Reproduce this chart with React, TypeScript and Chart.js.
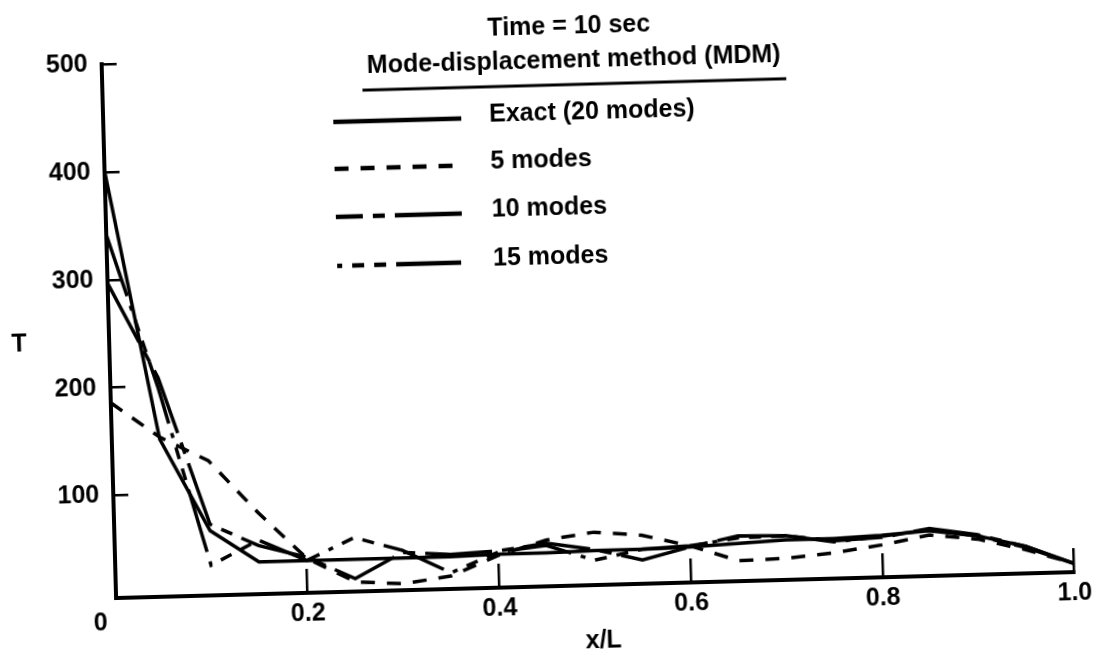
import React, { useEffect, useRef } from 'react';
import { Chart, registerables } from 'chart.js';

Chart.register(...registerables);

// ---- data ----
const xPositions = [0, 0.05, 0.1, 0.15, 0.2, 0.25, 0.3, 0.35, 0.4, 0.45, 0.5, 0.55, 0.6, 0.65, 0.7, 0.75, 0.8, 0.85, 0.9, 0.95, 1.0];
const exactValues = [401, 151, 65, 35, 35, 35, 35, 35, 36, 36, 37, 37, 38, 40, 42, 42, 44, 47, 41, 30, 13];
const modes5Values = [186, 153, 130, 81, 37, 14, 11, 17, 35, 48, 54, 50, 39, 24, 25, 29, 35, 43, 38, 27, 13];
const modes10Values = [297, 208, 71, 50, 38, 17, 40, 37, 39, 45, 38, 27, 38, 47, 46, 40, 42, 49, 42, 30, 13];
const modes15Values = [342, 198, 33, 55, 35, 55, 42, 20, 38, 43, 28, 37, 39, 45, 46, 39, 43, 48, 41, 29, 13];

const seriesLabels = ['Exact (20 modes)', '5 modes', '10 modes', '15 modes'];
const titleLines = ['Time = 10 sec', 'Mode-displacement method (MDM)'];
const yAxisTitle = 'T';
const xAxisTitle = 'x/L';
const xOriginLabel = '0';
const xTickValues = [0, 0.2, 0.4, 0.6, 0.8, 1.0];
const xTickLabels = ['', '0.2', '0.4', '0.6', '0.8', '1.0'];
const yTickValues = [100, 200, 300, 400, 500];
const yTickLabels = ['100', '200', '300', '400', '500'];
const yMin = 5;
const yMax = 500;

const FONT = '"Liberation Sans", Arial, Helvetica, sans-serif';
const FONT_SIZE = 25;
const FONT_WEIGHT = 'bold';

const dashPatterns: number[][] = [[], [14, 12], [67, 10, 12, 10], [65, 10, 5, 10, 12, 10, 12, 10]];
const legendDashOffsets = [0, 0, 40, 75];

const toPoints = (vals: number[]) => vals.map((v, i) => ({ x: xPositions[i], y: v }));

const annotationPlugin = {
  id: 'annotations',
  afterDraw(chart: any) {
    const ctx = chart.ctx as CanvasRenderingContext2D;
    const area = chart.chartArea;
    const xs = chart.scales.x;
    ctx.save();
    ctx.fillStyle = '#000';
    ctx.strokeStyle = '#000';
    ctx.font = `${FONT_WEIGHT} ${FONT_SIZE}px ${FONT}`;
    ctx.textAlign = 'center';
    ctx.textBaseline = 'middle';
    ctx.fillText(titleLines[0], 577, 27);
    ctx.fillText(titleLines[1], 581, 61);
    ctx.lineWidth = 3;
    ctx.beginPath();
    ctx.moveTo(369, 85);
    ctx.lineTo(793, 85);
    ctx.stroke();

    const rows = [116, 163, 211, 260];
    chart.data.datasets.forEach((ds: any, i: number) => {
      ctx.setLineDash(ds.borderDash || []);
      ctx.lineDashOffset = legendDashOffsets[i];
      ctx.lineWidth = 4.5;
      ctx.beginPath();
      ctx.moveTo(339, rows[i]);
      ctx.lineTo(467, rows[i]);
      ctx.stroke();
      ctx.setLineDash([]);
      ctx.textAlign = 'left';
      ctx.fillText(ds.label, 495, rows[i] - 3);
    });

    ctx.textAlign = 'center';
    ctx.fillText(yAxisTitle, 19, 330);
    ctx.fillText(xAxisTitle, (area.left + area.right) / 2 + 7, 642);
    ctx.fillText(xOriginLabel, xs.getPixelForValue(0) - 16, 611);
    ctx.restore();
  },
};

export default function App() {
  const canvasRef = useRef<HTMLCanvasElement | null>(null);

  useEffect(() => {
    if (!canvasRef.current) return;
    const series = [exactValues, modes5Values, modes10Values, modes15Values];
    const chart = new Chart(canvasRef.current, {
      type: 'line',
      data: {
        datasets: series.map((vals, i) => ({
          label: seriesLabels[i],
          data: toPoints(vals),
          borderColor: '#000',
          backgroundColor: '#000',
          borderWidth: 3.5,
          borderDash: dashPatterns[i],
          pointRadius: 0,
          tension: 0,
          fill: false,
        })),
      },
      options: {
        responsive: false,
        animation: false,
        layout: { padding: { top: 52, right: 26, left: 0, bottom: 0 } },
        plugins: {
          legend: { display: false },
          title: { display: false },
          tooltip: { enabled: false },
        },
        scales: {
          x: {
            type: 'linear',
            min: 0,
            max: 1,
            afterFit: (s: any) => {
              s.height = 74;
            },
            afterBuildTicks: (s: any) => {
              s.ticks = xTickValues.map((v) => ({ value: v }));
            },
            ticks: {
              padding: 30,
              color: '#000',
              autoSkip: false,
              maxRotation: 0,
              font: { family: FONT, size: FONT_SIZE, weight: FONT_WEIGHT },
              callback: (_v: any, i: number) => xTickLabels[i],
            },
            grid: { drawOnChartArea: false, drawTicks: true, tickLength: -24, lineWidth: 2.5, color: '#000' },
            border: { display: true, width: 4, color: '#000' },
          },
          y: {
            min: yMin,
            max: yMax,
            afterFit: (s: any) => {
              s.width = 109;
            },
            afterBuildTicks: (s: any) => {
              s.ticks = yTickValues.map((v) => ({ value: v }));
            },
            ticks: {
              padding: 29,
              color: '#000',
              autoSkip: false,
              font: { family: FONT, size: FONT_SIZE, weight: FONT_WEIGHT },
              callback: (_v: any, i: number) => yTickLabels[i],
            },
            grid: { drawOnChartArea: false, drawTicks: true, tickLength: -15, lineWidth: 2.5, color: '#000' },
            border: { display: true, width: 4, color: '#000' },
          },
        },
      } as any,
      plugins: [annotationPlugin],
    });
    return () => chart.destroy();
  }, []);

  return (
    <div
      style={{
        position: 'fixed',
        left: 0,
        top: 0,
        width: 1115,
        height: 660,
        background: '#fff',
        transform: 'rotate(-1.55deg)',
        transformOrigin: '557px 330px',
      }}
    >
      <canvas ref={canvasRef} width={1115} height={660} style={{ width: 1115, height: 660, display: 'block' }} />
    </div>
  );
}
